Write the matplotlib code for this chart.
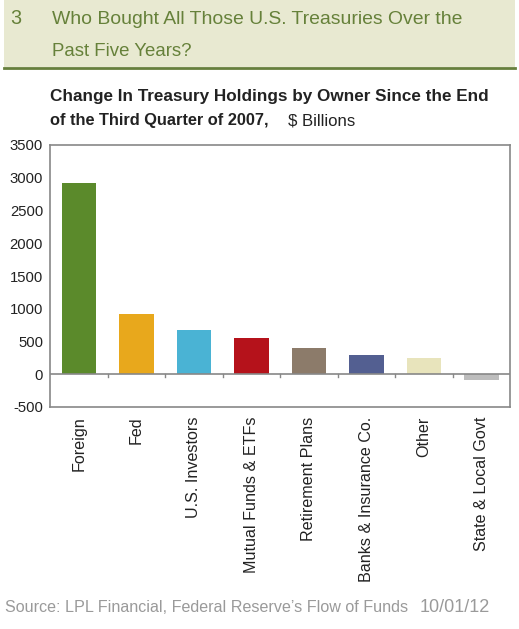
import matplotlib
matplotlib.use("Agg")
import matplotlib.pyplot as plt
from matplotlib.patches import Rectangle
from matplotlib.lines import Line2D

categories = ["Foreign", "Fed", "U.S. Investors", "Mutual Funds & ETFs",
              "Retirement Plans", "Banks & Insurance Co.", "Other", "State & Local Govt"]
values = [2925, 925, 676, 559, 406, 295, 249, -82]
colors = ["#5b8a2b", "#e8a81c", "#4ab3d4", "#b5121b", "#8c7b6a", "#535f91", "#e8e4bc", "#bdbdbd"]
yticks = [-500, 0, 500, 1000, 1500, 2000, 2500, 3000, 3500]

FONT = "Liberation Sans"
W, H = 519, 629
fig = plt.figure(figsize=(W/100, H/100), dpi=100)
fig.patch.set_facecolor("white")
renderer = fig.canvas.get_renderer()


def fit_text(x0, yc, s, target_w, **kw):
    t = fig.text(x0/W, 1-yc/H, s, fontsize=12, va="center", ha="left", family=FONT, **kw)
    w = t.get_window_extent(renderer).width
    t.set_fontsize(12*target_w/w)
    return t

# header band
fig.patches.append(Rectangle((4/W, 1-67/H), 511/W, 67/H, transform=fig.transFigure,
                             facecolor="#e8e9d1", edgecolor="none", zorder=0))
fig.lines.append(Line2D([4/W, 515/W], [1-67.5/H, 1-67.5/H], transform=fig.transFigure,
                        color="#667f3c", lw=2))
green = "#66813a"
fit_text(10, 19, "3", 11, color=green)
fit_text(52, 19, "Who Bought All Those U.S. Treasuries Over the", 411, color=green)
fit_text(52, 51, "Past Five Years?", 140, color=green)

fit_text(50, 97, "Change In Treasury Holdings by Owner Since the End", 436,
         color="#222222", fontweight="bold")
fit_text(50, 121, "of the Third Quarter of 2007,", 218, color="#222222", fontweight="bold")
fit_text(288, 121, "$ Billions", 67, color="#222222")

fit_text(5, 607, "Source: LPL Financial, Federal Reserve\u2019s Flow of Funds", 402, color="#9a9a9a")
fit_text(420, 607, "10/01/12", 70, color="#9a9a9a")

ax = fig.add_axes([50/W, 1-407/H, 460/W, 262/H])
x = list(range(len(categories)))
ax.bar(x, values, width=0.6, color=colors, zorder=2)
ax.set_xlim(-0.5, len(categories)-0.5)
ax.set_ylim(-500, 3500)
ax.set_yticks(yticks)

# fit y tick label size so "3500" is ~35 px wide
tmp = fig.text(0, 0, "3500", fontsize=12, family=FONT)
yw = tmp.get_window_extent(renderer).width
tmp.remove()
yfs = 12*33/yw
ax.set_yticklabels([str(v) for v in yticks], fontsize=yfs, family=FONT, color="#222222")
ax.tick_params(axis="y", length=0, pad=5)

tmp = fig.text(0, 0, "Banks & Insurance Co.", fontsize=12, family=FONT)
xw = tmp.get_window_extent(renderer).width
tmp.remove()
xfs = 12*165/xw
ax.set_xticks(x)
ax.set_xticklabels(categories, rotation=90, fontsize=xfs, family=FONT,
                   color="#222222", va="top", ha="center")
ax.tick_params(axis="x", length=0, pad=7)
for s in ax.spines.values():
    s.set_color("#888888")
    s.set_linewidth(1.2)
ax.axhline(0, color="#888888", lw=1.2, zorder=3)
for k in range(1, len(categories)):
    ax.plot([k-0.5, k-0.5], [0, -40], color="#888888", lw=1, zorder=3, clip_on=False)

fig.savefig("out.png", dpi=100)
